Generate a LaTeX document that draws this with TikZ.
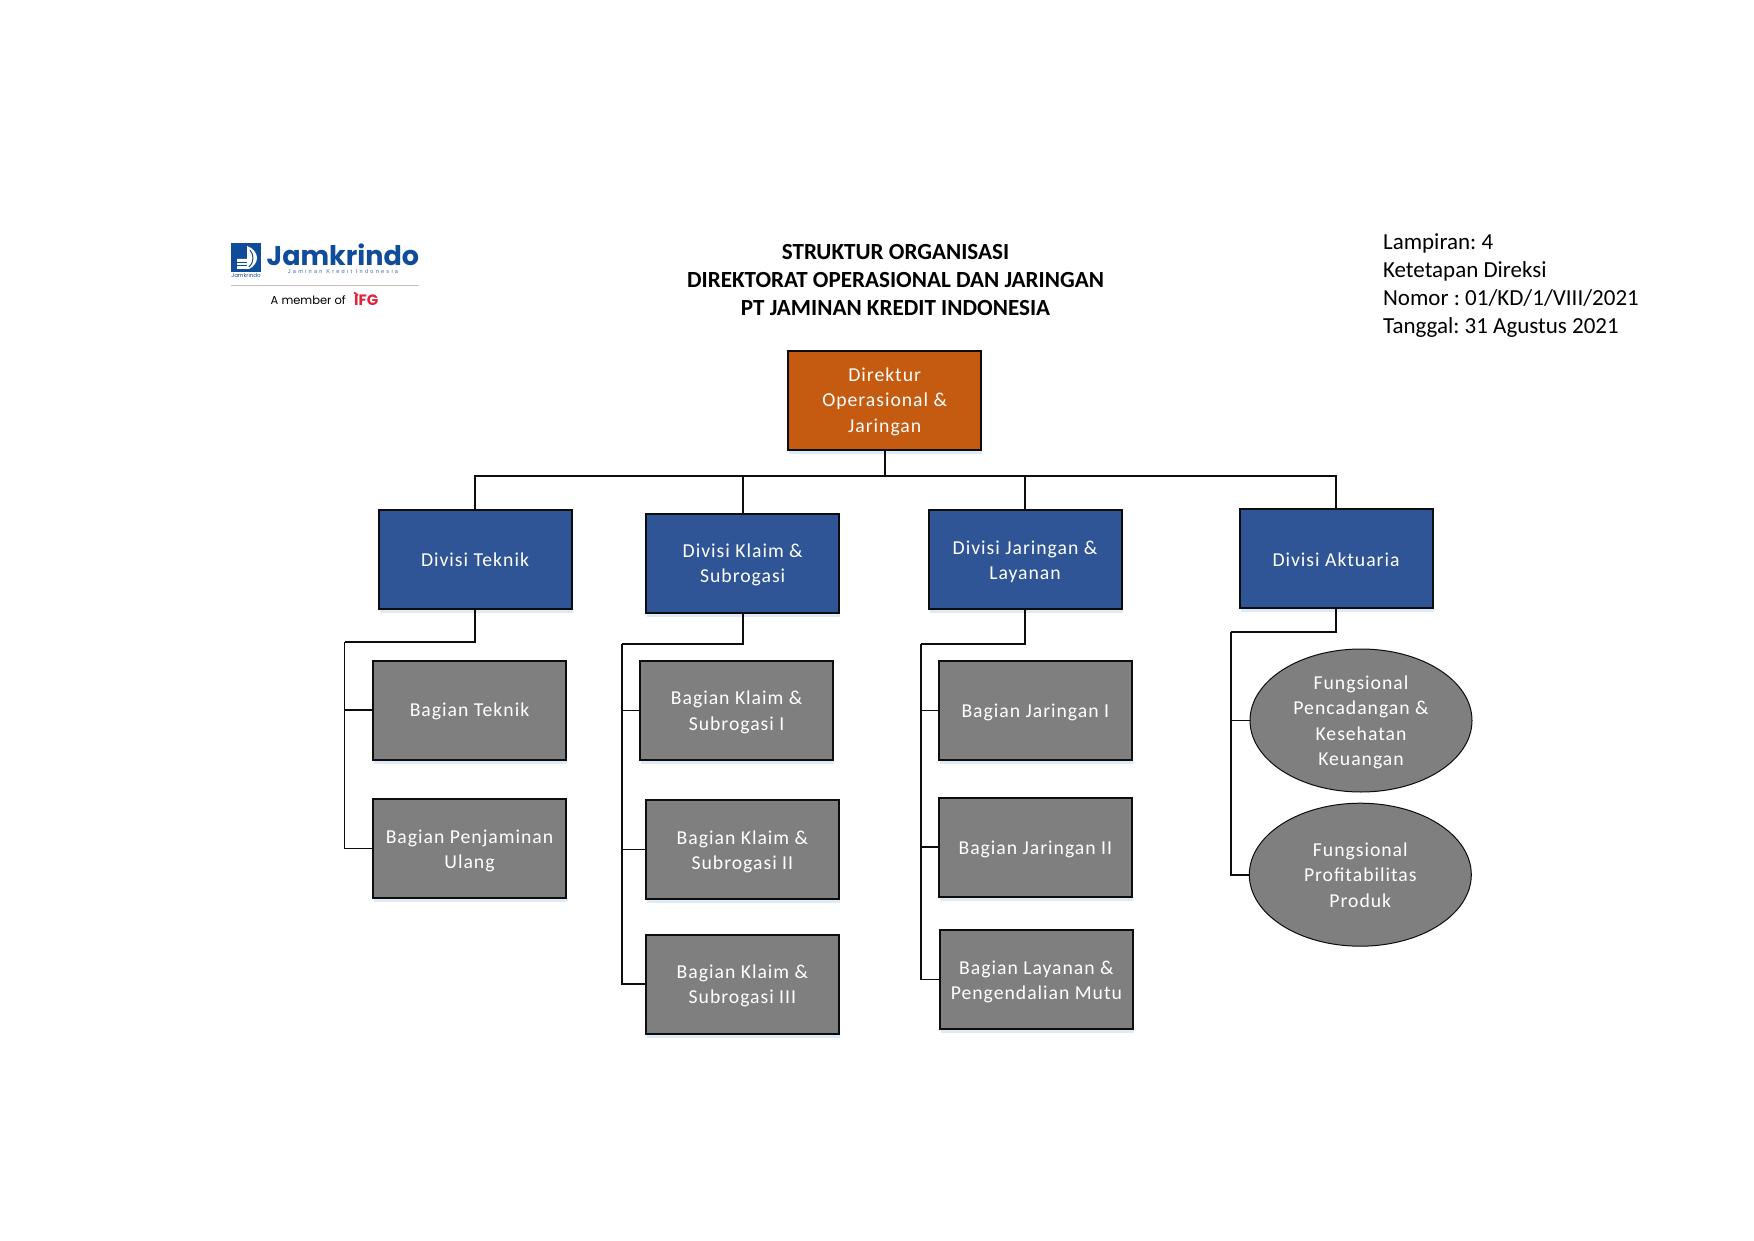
\documentclass[tikz,border=0pt]{standalone}
\usepackage{fontspec}
\setmainfont{Carlito}
\frenchspacing
\newfontfamily\boxfont[LetterSpace=5]{Carlito}
\newfontfamily\logofont{Poppins}
\newfontfamily\tagfont[LetterSpace=40]{Liberation Sans}
\usetikzlibrary{shapes.geometric,shadows}
\definecolor{dirorange}{HTML}{C55A11}
\definecolor{divblue}{HTML}{2F5597}
\definecolor{secgray}{HTML}{7F7F7F}
\definecolor{edgeink}{HTML}{0D0D0D}
\definecolor{shadowblue}{HTML}{DEEAF6}
\definecolor{logoblue}{HTML}{0F4C9A}
\definecolor{ifgred}{HTML}{E0243A}
\tikzset{
  textrise/.style={execute at begin node={\rule{0pt}{#1pt}}},
  orgbox/.style={rectangle,draw=edgeink,line width=2pt,minimum width=193pt,minimum height=99pt,
    inner sep=2pt,align=center,text=white,
    font=\boxfont\frenchspacing\fontsize{19.7}{25.4}\selectfont,
    drop shadow={shadow xshift=1pt,shadow yshift=-4pt,fill=shadowblue,opacity=1}},
  dirbox/.style={orgbox,fill=dirorange},
  divbox/.style={orgbox,fill=divblue},
  secbox/.style={orgbox,fill=secgray},
  funcell/.style={ellipse,draw=edgeink,line width=1pt,fill=secgray,inner sep=0pt,minimum width=222pt,minimum height=143pt,
    align=center,text=white,font=\boxfont\frenchspacing\fontsize{19.7}{25.4}\selectfont},
  link/.style={draw=edgeink,line width=1.6pt},
  headtext/.style={inner sep=0pt,font=\fontsize{23}{28}\selectfont}
}
\begin{document}
\begin{tikzpicture}[x=1pt,y=-1pt]
\useasboundingbox (0,0) rectangle (1754,1241);
\fill[white] (0,0) rectangle (1754,1241);

% logo
\fill[logoblue] (231,243) rectangle (261,272);
\fill[white] (247,246) .. controls (253,248) and (257,253) .. (257,258) .. controls (257,263) and (253,267) .. (249,269) -- (237,269) -- (237,259) -- (247,259) -- cycle;
\draw[logoblue,line width=1pt] (250,250) .. controls (252,253) and (253,255) .. (253,258) .. controls (253,261) and (252,264) .. (249,267);
\draw[logoblue,line width=.8pt] (237,262.5) -- (247,262.5) (237,265.8) -- (247,265.8);
\node[inner sep=0pt,text=logoblue,font=\logofont\fontsize{5.5}{6}\selectfont] (logosmall) at (246,275.5) {Jamkrindo};
\node[inner sep=0pt,anchor=base west,text=logoblue,font=\logofont\bfseries\fontsize{27}{30}\selectfont] (logoname) at (266.5,266) {Jamkrindo};
\node[inner sep=0pt,anchor=center,text=logoblue!80,font=\tagfont\fontsize{5.6}{6}\selectfont] (logotag) at (343,271.5) {Jaminan Kredit Indonesia};
\draw[gray!50,line width=1pt] (231,286) -- (419,286);
\node[inner sep=0pt,anchor=west,font=\logofont\fontsize{11.5}{13}\selectfont,text=black] (logomember) at (270.5,300) {A member of};
\node[inner sep=0pt,anchor=west,font=\logofont\bfseries\fontsize{15}{15}\selectfont,text=ifgred] (logoifg) at (354,300.5) {IFG};
\draw[ifgred,line width=1.6pt] (354,292.5) -- (358,295);

% headings
\node[headtext,align=center,font=\bfseries\fontsize{23.1}{28}\selectfont] (title) at (895.5,279.6) {STRUKTUR ORGANISASI\\DIREKTORAT OPERASIONAL DAN JARINGAN\\PT JAMINAN KREDIT INDONESIA};
\node[headtext,align=left,anchor=west] (lamp) at (1382.9,285.5) {Lampiran: 4\\Ketetapan Direksi\\Nomor : 01/KD/1/VIII/2021\\Tanggal: 31 Agustus 2021};

% top
\node[dirbox,textrise=67] (dir) at (884.7,400.5) {Direktur\\Operasional \&\\Jaringan};
\node[divbox,textrise=15] (dteknik) at (475,559) {Divisi Teknik};
\node[divbox,textrise=42] (dklaim) at (742.7,563.5) {Divisi Klaim \&\\Subrogasi};
\node[divbox,textrise=44] (djar) at (1025,559.5) {Divisi Jaringan \&\\Layanan};
\node[divbox,textrise=15] (dakt) at (1336,558.7) {Divisi Aktuaria};

% sections
\node[secbox,textrise=16.5] (bteknik) at (469.5,710) {Bagian Teknik};
\node[secbox,textrise=43.5] (bulang) at (469.5,848.5) {Bagian Penjaminan\\Ulang};
\node[secbox,textrise=43] (bk1) at (736.6,710.5) {Bagian Klaim \&\\Subrogasi I};
\node[secbox,textrise=43] (bk2) at (742.4,849.6) {Bagian Klaim \&\\Subrogasi II};
\node[secbox,textrise=43] (bk3) at (742.4,984) {Bagian Klaim \&\\Subrogasi III};
\node[secbox,textrise=16.5] (bj1) at (1035.3,710.5) {Bagian Jaringan I};
\node[secbox,textrise=18] (bj2) at (1035.3,847) {Bagian Jaringan II};
\node[secbox,textrise=43.5] (blay) at (1036.4,979.5) {Bagian Layanan \&\\Pengendalian Mutu};
\node[funcell,textrise=93.5] (f1) at (1361,720.5) {Fungsional\\Pencadangan \&\\Kesehatan\\Keuangan};
\node[funcell,textrise=65.5] (f2) at (1360.3,874.7) {Fungsional\\Profitabilitas\\Produk};

% connectors
\coordinate (bus) at (884.7,475.7);
\coordinate (tt) at (344.5,642);
\coordinate (tk) at (622,643.7);
\coordinate (tj) at (921,643.7);
\coordinate (ta) at (1231,632);
\draw[link] (dir.south) -- (bus);
\draw[link] (dteknik.north) |- (bus);
\draw[link] (dklaim.north) |- (bus);
\draw[link] (djar.north) |- (bus);
\draw[link] (dakt.north) |- (bus);
\draw[link] (dteknik.south) |- (tt);
\draw[link] (tt) |- (bteknik.west);
\draw[link] (tt) |- (bulang.west);
\draw[link] (dklaim.south) |- (tk);
\draw[link] (tk) |- (bk1.west);
\draw[link] (tk) |- (bk2.west);
\draw[link] (tk) |- (bk3.west);
\draw[link] (djar.south) |- (tj);
\draw[link] (tj) |- (bj1.west);
\draw[link] (tj) |- (bj2.west);
\draw[link] (tj) |- (blay.west);
\draw[link] (dakt.south) |- (ta);
\draw[link] (ta) |- (f1.west);
\draw[link] (ta) |- (f2.west);
\end{tikzpicture}
\end{document}
